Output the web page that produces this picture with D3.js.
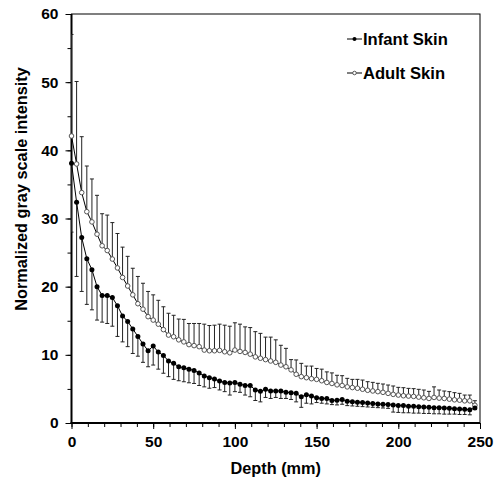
<!DOCTYPE html>
<html>
<head>
<meta charset="utf-8">
<script src="https://cdn.jsdelivr.net/npm/d3@7/dist/d3.min.js"></script>
<style>
html,body{margin:0;padding:0;background:#fff;}
svg{display:block;}
text{font-family:"Liberation Sans",Arial,sans-serif;font-weight:bold;fill:#000;}
</style>
</head>
<body>
<svg id="chart" width="497" height="479"></svg>
<script>
const depth = [0,3.125,6.25,9.375,12.5,15.625,18.75,21.875,25,28.125,31.25,34.375,37.5,40.625,43.75,46.875,50,53.125,56.25,59.375,62.5,65.625,68.75,71.875,75,78.125,81.25,84.375,87.5,90.625,93.75,96.875,100,103.125,106.25,109.375,112.5,115.625,118.75,121.875,125,128.125,131.25,134.375,137.5,140.625,143.75,146.875,150,153.125,156.25,159.375,162.5,165.625,168.75,171.875,175,178.125,181.25,184.375,187.5,190.625,193.75,196.875,200,203.125,206.25,209.375,212.5,215.625,218.75,221.875,225,228.125,231.25,234.375,237.5,240.625,243.75,246.875];

const infantMean = [38.1,32.4,27.2,24.1,22.5,20.0,18.7,18.7,18.4,17.2,15.7,14.9,13.8,12.7,11.6,10.6,11.3,10.4,9.9,9.1,8.75,8.25,8.1,7.9,7.7,7.35,6.9,6.65,6.45,6.15,5.95,5.85,5.95,5.7,5.5,5.5,4.85,4.65,4.95,4.7,4.7,4.7,4.5,4.45,4.35,3.85,4.15,3.95,3.7,3.6,3.6,3.3,3.35,3.45,3.2,3.1,3.05,3.0,2.95,2.85,2.8,2.75,2.7,2.65,2.55,2.55,2.45,2.45,2.4,2.35,2.3,2.25,2.25,2.2,2.15,2.1,2.05,2.0,1.95,2.2];

const infantLow = [28,21.5,19.3,17.4,16.6,15.1,14.8,14.6,14.2,12.7,11.9,11.2,10.2,9.8,8.9,8.25,8.5,7.9,7.3,6.8,6.4,6.2,6.05,5.9,5.8,5.5,5.3,5.1,5.2,4.85,4.6,4.1,4.6,4.5,4.1,3.85,3.3,3.1,3.75,3.6,3.75,3.6,3.6,3.45,3.1,2.3,2.9,2.8,3.0,2.9,2.8,2.7,2.65,2.75,2.55,2.5,2.45,2.4,2.35,2.3,2.25,2.2,2.15,1.6,1.55,1.5,1.5,1.45,1.45,1.4,1.4,1.35,1.35,1.3,1.3,1.3,1.25,1.25,1.2,2.0];

const adultMean = [42.1,38.0,33.8,31.0,29.5,27.7,26.0,25.3,24.05,22.75,21.35,20.1,18.8,17.5,16.7,15.6,15.1,14.5,13.7,12.9,12.65,12.2,11.9,11.5,11.35,11.2,10.7,10.6,10.6,10.65,10.45,10.3,10.7,10.5,10.35,10.1,9.7,9.5,9.3,9.1,8.9,8.5,8.25,7.8,7.15,6.8,6.65,6.5,6.4,6.2,5.95,5.8,5.6,5.5,5.3,5.2,5.1,4.95,4.8,4.7,4.6,4.5,4.35,4.2,4.1,4.0,3.95,3.9,3.8,3.7,3.6,3.75,3.65,3.6,3.5,3.4,3.35,3.25,3.25,2.6];

const adultHigh = [57,50.1,42.0,37.7,35.8,33.4,30.7,30.5,29.4,27.8,25.8,24.45,22.7,21.5,20.5,19.3,18.8,18.0,17.05,16.1,15.8,15.25,15.2,14.6,14.6,14.6,14.5,14.3,14.35,14.5,14.35,14.2,14.7,14.5,14.1,14.0,13.4,13.15,12.6,12.6,12.2,11.4,10.95,9.3,9.25,8.75,8.35,8.35,8.0,7.9,7.5,7.35,7.0,6.94,6.55,6.4,6.4,6.3,6.06,5.96,5.82,5.72,5.57,5.43,5.23,5.18,5.08,5.04,4.94,4.84,4.64,5.3,4.84,4.69,4.6,4.45,4.35,4.1,4.1,3.27];

const xTicks = [0,50,100,150,200,250];
const yTicks = [0,10,20,30,40,50,60];
const seriesNames = ["Infant Skin","Adult Skin"];
const xTitle = "Depth (mm)";
const yTitle = "Normalized gray scale intensity";

const svg = d3.select("#chart");
const L = 71.5, R = 480, T = 14, B = 423;
const x = d3.scaleLinear().domain([0,250]).range([L,R]);
const y = d3.scaleLinear().domain([0,60]).range([B,T]);

// frame
svg.append("rect").attr("x",L).attr("y",T).attr("width",R-L).attr("height",B-T)
  .attr("fill","none").attr("stroke","#000").attr("stroke-width",1);

// minor ticks
const gx = svg.append("g").attr("transform",`translate(0,${B})`)
  .call(d3.axisBottom(x).tickValues(d3.range(0,251,10)).tickSize(4).tickFormat(""));
gx.select(".domain").remove();
gx.selectAll("line").attr("stroke","#000");
const gy = svg.append("g").attr("transform",`translate(${L},0)`)
  .call(d3.axisLeft(y).tickValues(d3.range(0,61,5)).tickSize(4).tickFormat(""));
gy.select(".domain").remove();
gy.selectAll("line").attr("stroke","#000");

// major ticks with labels
const gx2 = svg.append("g").attr("transform",`translate(0,${B})`)
  .call(d3.axisBottom(x).tickValues(xTicks).tickSize(6).tickPadding(7));
gx2.select(".domain").remove();
gx2.selectAll("line").attr("stroke","#000");
gx2.selectAll("text").attr("font-size",15.5).attr("font-family",'"Liberation Sans",Arial,sans-serif').attr("font-weight","bold").attr("fill","#000");
const gy2 = svg.append("g").attr("transform",`translate(${L},0)`)
  .call(d3.axisLeft(y).tickValues(yTicks).tickSize(6).tickPadding(7));
gy2.select(".domain").remove();
gy2.selectAll("line").attr("stroke","#000");
gy2.selectAll("text").attr("font-size",15.5).attr("font-family",'"Liberation Sans",Arial,sans-serif').attr("font-weight","bold").attr("fill","#000");

// thick axes lines
svg.append("line").attr("x1",L).attr("x2",L).attr("y1",T).attr("y2",B+1).attr("stroke","#000").attr("stroke-width",2);
svg.append("line").attr("x1",L-1).attr("x2",R).attr("y1",B).attr("y2",B).attr("stroke","#000").attr("stroke-width",2);

// error bars
const cap = 2;
const eb = svg.append("g").attr("stroke","#222").attr("stroke-width",1).attr("fill","none");
depth.forEach((d,i)=>{
  const cx = x(d);
  const cl = i === 0 ? cx : cx - cap;
  // adult upward
  eb.append("line").attr("x1",cx).attr("x2",cx).attr("y1",y(adultMean[i])).attr("y2",y(adultHigh[i]));
  eb.append("line").attr("x1",cl).attr("x2",cx+cap).attr("y1",y(adultHigh[i])).attr("y2",y(adultHigh[i]));
  // infant downward
  eb.append("line").attr("x1",cx).attr("x2",cx).attr("y1",y(infantMean[i])).attr("y2",y(infantLow[i]));
  eb.append("line").attr("x1",cl).attr("x2",cx+cap).attr("y1",y(infantLow[i])).attr("y2",y(infantLow[i]));
});

// lines
const line = d3.line().x((v,i)=>x(depth[i])).y(v=>y(v));
svg.append("path").datum(adultMean).attr("d",line).attr("fill","none").attr("stroke","#000").attr("stroke-width",1);
svg.append("path").datum(infantMean).attr("d",line).attr("fill","none").attr("stroke","#000").attr("stroke-width",1);

// markers
svg.append("g").selectAll("circle").data(adultMean).join("circle")
  .attr("cx",(v,i)=>x(depth[i])).attr("cy",v=>y(v)).attr("r",2.3)
  .attr("fill","#fff").attr("stroke","#555").attr("stroke-width",1);
svg.append("g").selectAll("circle").data(infantMean).join("circle")
  .attr("cx",(v,i)=>x(depth[i])).attr("cy",v=>y(v)).attr("r",2.5)
  .attr("fill","#000");

// titles
svg.append("text").attr("x",(L+R)/2).attr("y",474).attr("text-anchor","middle").attr("font-size",16.3).text(xTitle);
svg.append("text").attr("transform","translate(27,189) rotate(-90)").attr("text-anchor","middle").attr("font-size",16.3).text(yTitle);

// legend
const legY = [39,73];
seriesNames.forEach((n,k)=>{
  const g = svg.append("g");
  g.append("line").attr("x1",347).attr("x2",362).attr("y1",legY[k]).attr("y2",legY[k]).attr("stroke","#000");
  if(k===0) g.append("circle").attr("cx",354.5).attr("cy",legY[k]).attr("r",2).attr("fill","#000");
  else g.append("circle").attr("cx",354.5).attr("cy",legY[k]).attr("r",1.8).attr("fill","#fff").attr("stroke","#555");
  g.append("text").attr("x",363).attr("y",legY[k]+6).attr("font-size",16.6).text(n);
});
</script>
</body>
</html>
